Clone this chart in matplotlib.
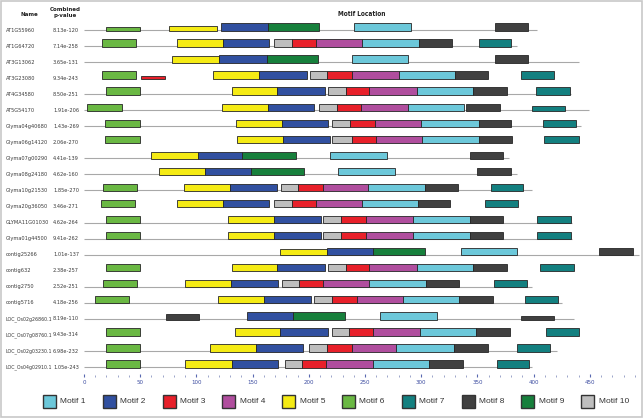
import numpy as np
import matplotlib
matplotlib.use('Agg')
import matplotlib.pyplot as plt
from matplotlib import font_manager as fm
from matplotlib.patches import Rectangle
from matplotlib.ticker import MultipleLocator

# 窄体字优先
installed = {(f.name, f.stretch) for f in fm.fontManager.ttflist}
narrow = None
for fam, st in [('Liberation Sans Narrow', 'normal'), ('Liberation Sans Narrow', 'condensed'),
                ('DejaVu Sans', 'condensed'), ('DejaVu Sans', 'semi-condensed')]:
    if (fam, st) in installed:
        narrow = (fam, st)
        break
if narrow is None:
    narrow = ('Liberation Sans', 'normal')
    label_size = 3.8
else:
    label_size = 4.6 if narrow[0].startswith('Liberation') else 4.1
plt.rcParams['font.family'] = [narrow[0], 'Liberation Sans', 'DejaVu Sans']

# 基因名称与 p 值
names = ['AT1G55960', 'AT1G64720', 'AT3G13062', 'AT3G23080', 'AT4G34580', 'AT5G54170',
         'Glyma04g40680', 'Glyma06g14120', 'Glyma07g00290', 'Glyma08g24180',
         'Glyma10g21530', 'Glyma20g36050', 'GLYMA11G01030', 'Glyma01g44500',
         'contig25266', 'contig632', 'contig2750', 'contig5716',
         'LOC_Os02g26860.1', 'LOC_Os07g08760.1', 'LOC_Os02g03230.1', 'LOC_Os04g02910.1']
pvalues = ['8.13e-120', '7.14e-258', '3.65e-131', '9.34e-243', '8.50e-251', '1.91e-206',
           '1.43e-269', '2.06e-270', '4.41e-139', '4.62e-160', '1.85e-270', '3.46e-271',
           '4.62e-264', '9.41e-262', '1.01e-137', '2.38e-257', '2.52e-251', '4.18e-256',
           '8.19e-110', '9.43e-314', '6.98e-232', '1.05e-243']
# 序列长度 (None = 不画底线)
seq_len = [403, 385, 440, None, 433, 449, 442, None, 378, 385, 399, None,
           434, 434, 494, None, 399, 425, 436, None, 421, 399]

motif_labels = ['Motif %d' % i for i in range(1, 11)]
motif_colors = ['#6cc8da', '#3150a0', '#e8202a', '#b04e9e', '#f5eb14',
                '#6ab843', '#138080', '#404040', '#17803c', '#bebebe']

# (motif, start, end)
hits = [
    [(6, 20, 50), (5, 76, 118), (2, 122, 164), (9, 164, 209), (1, 240, 291), (8, 366, 395)],
    [(6, 16, 46), (5, 83, 124), (2, 124, 165), (10, 169, 185), (3, 185, 206), (4, 206, 247), (1, 247, 298), (8, 298, 327), (7, 351, 380)],
    [(5, 78, 120), (2, 120, 163), (9, 163, 208), (1, 238, 288), (8, 366, 395)],
    [(6, 16, 46), (3, 51, 72), (5, 115, 156), (2, 156, 198), (10, 201, 216), (3, 216, 238), (4, 238, 280), (1, 280, 330), (8, 330, 359), (7, 389, 418)],
    [(6, 20, 50), (5, 132, 172), (2, 172, 214), (10, 217, 233), (3, 233, 254), (4, 254, 296), (1, 296, 346), (8, 346, 376), (7, 402, 432)],
    [(6, 3, 34), (5, 123, 164), (2, 164, 205), (10, 209, 225), (3, 225, 246), (4, 246, 288), (1, 288, 338), (8, 340, 370), (7, 399, 428)],
    [(6, 19, 50), (5, 135, 176), (2, 176, 217), (10, 221, 237), (3, 237, 259), (4, 259, 300), (1, 300, 351), (8, 351, 380), (7, 408, 438)],
    [(6, 19, 50), (5, 136, 177), (2, 177, 219), (10, 221, 238), (3, 238, 260), (4, 260, 301), (1, 301, 351), (8, 351, 381), (7, 409, 440)],
    [(5, 60, 101), (2, 101, 141), (9, 141, 189), (1, 219, 270), (8, 343, 373)],
    [(5, 67, 108), (2, 108, 149), (9, 149, 196), (1, 226, 277), (8, 350, 380)],
    [(6, 17, 47), (5, 89, 130), (2, 130, 172), (10, 175, 190), (3, 190, 213), (4, 213, 253), (1, 253, 303), (8, 303, 333), (7, 362, 391)],
    [(6, 15, 45), (5, 83, 124), (2, 124, 165), (10, 169, 185), (3, 185, 206), (4, 206, 247), (1, 247, 297), (8, 297, 326), (7, 357, 386)],
    [(6, 20, 50), (5, 128, 169), (2, 169, 211), (10, 213, 229), (3, 229, 251), (4, 251, 293), (1, 293, 343), (8, 343, 373), (7, 403, 433)],
    [(6, 20, 50), (5, 128, 169), (2, 169, 211), (10, 213, 229), (3, 229, 251), (4, 251, 293), (1, 293, 343), (8, 343, 373), (7, 403, 433)],
    [(5, 174, 216), (2, 216, 257), (9, 257, 303), (1, 335, 385), (8, 458, 488)],
    [(6, 20, 50), (5, 132, 172), (2, 172, 214), (10, 217, 233), (3, 233, 254), (4, 254, 296), (1, 296, 346), (8, 346, 376), (7, 406, 436)],
    [(6, 17, 47), (5, 90, 131), (2, 131, 173), (10, 176, 191), (3, 191, 213), (4, 213, 254), (1, 254, 304), (8, 304, 334), (7, 365, 394)],
    [(6, 10, 40), (5, 119, 160), (2, 160, 202), (10, 205, 221), (3, 221, 243), (4, 243, 284), (1, 284, 334), (8, 334, 364), (7, 392, 422)],
    [(8, 73, 102), (2, 145, 186), (9, 186, 232), (1, 263, 314), (8, 389, 418)],
    [(6, 20, 50), (5, 134, 174), (2, 174, 217), (10, 221, 236), (3, 236, 257), (4, 257, 299), (1, 299, 349), (8, 349, 379), (7, 411, 440)],
    [(6, 20, 50), (5, 112, 153), (2, 153, 195), (10, 200, 216), (3, 216, 238), (4, 238, 278), (1, 278, 329), (8, 329, 359), (7, 385, 415)],
    [(6, 20, 50), (5, 90, 132), (2, 132, 173), (10, 179, 194), (3, 194, 215), (4, 215, 257), (1, 257, 307), (8, 307, 337), (7, 367, 396)],
]
# 显著性较弱的位点画得更矮 (行, 序号): 相对高度
hit_scale = {(0, 0): 0.45, (0, 1): 0.65, (2, 0): 0.9, (3, 1): 0.4, (5, 8): 0.65,
             (14, 0): 0.8, (18, 0): 0.75, (18, 4): 0.45}

W, H = 644, 419
fig = plt.figure(figsize=(W / 100, H / 100), dpi=100)
renderer = fig.canvas.get_renderer()

# 背景层 (像素坐标)
bg = fig.add_axes([0, 0, 1, 1])
bg.set_xlim(0, W)
bg.set_ylim(H, 0)
bg.axis('off')
bg.add_patch(Rectangle((1, 1), W - 3, H - 3, fill=False, edgecolor='#c8c8c8', lw=1.2))

txt = dict(family=[narrow[0], 'Liberation Sans', 'DejaVu Sans'], stretch=narrow[1])
row0, row_step = 30, 16.05
bg.text(29, 14, 'Name', ha='center', va='center', fontsize=label_size + 0.3, fontweight='bold',
        color='#222222', **txt)
bg.text(65, 12.5, 'Combined\np-value', ha='center', va='center', fontsize=label_size + 0.3,
        fontweight='bold', color='#222222', linespacing=1.1, **txt)
bg.text(362, 14, 'Motif Location', ha='center', va='center', fontsize=label_size + 0.6,
        fontweight='bold', color='#222222', **txt)
name_room = 45.5
for i, (n, p) in enumerate(zip(names, pvalues)):
    y = row0 + i * row_step
    t = bg.text(6, y, n, ha='left', va='center', fontsize=label_size, color='#3a3a3a', **txt)
    w = t.get_window_extent(renderer).width
    if w > name_room:
        t.set_fontsize(label_size * name_room / w)
    bg.text(53, y, p, ha='left', va='center', fontsize=label_size, color='#3a3a3a', **txt)

# 图例
for k, (lab, col) in enumerate(zip(motif_labels, motif_colors)):
    x0 = 43 + k * 59.8
    bg.add_patch(Rectangle((x0, 395), 13, 13, facecolor=col, edgecolor='#333333', lw=1.0))
    bg.text(x0 + 17.5, 401.5, lab, ha='left', va='center', fontsize=6,
            family=['Liberation Sans', 'DejaVu Sans'], color='#333333')

# 主图
x_scale = 1.124
ax_left, ax_top, ax_bottom = 84, 6, 377
xmax = 495
ax = fig.add_axes([ax_left / W, 1 - ax_bottom / H, xmax * x_scale / W, (ax_bottom - ax_top) / H])
ax.patch.set_alpha(0)
ax.set_xlim(0, xmax)
ax.set_ylim((ax_bottom - row0) / row_step, (ax_top - row0) / row_step)
for s in ax.spines.values():
    s.set_visible(False)
ax.set_yticks([])
ax.xaxis.set_major_locator(MultipleLocator(50))
ax.xaxis.set_minor_locator(MultipleLocator(10))
ax.set_xticks(np.arange(0, 451, 50))
ax.tick_params(axis='x', which='major', direction='in', length=2.5, width=0.8,
               color='#5868b0', labelsize=4.0, labelcolor='#3b4ba0', pad=2)
ax.tick_params(axis='x', which='minor', direction='in', length=1.5, width=0.6, color='#8a94c0')

box_h = 0.46
for i, row in enumerate(hits):
    if seq_len[i] is not None:
        ax.plot([0, seq_len[i]], [i, i], color='#a8a8a8', lw=0.8, zorder=1,
                solid_capstyle='butt')
    for j, (m, s, e) in enumerate(row):
        h = box_h * hit_scale.get((i, j), 1.0)
        ax.add_patch(Rectangle((s, i + 0.04 - h), e - s, h, facecolor=motif_colors[m - 1],
                               edgecolor='#262626', lw=0.6, zorder=2))

fig.savefig('out.png', dpi=100)
